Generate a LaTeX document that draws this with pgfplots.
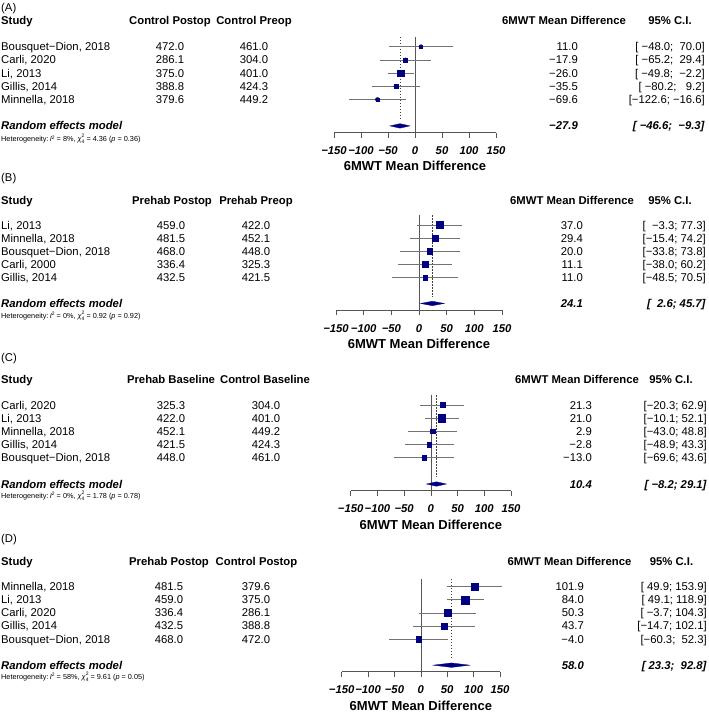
\documentclass[border=0pt]{standalone}
\usepackage{fontspec}
\setmainfont{Liberation Sans}
\usepackage{pgfplots}
\pgfplotsset{compat=1.18}
\usepackage{pgfplotstable}
\definecolor{navy}{RGB}{0,0,128}
\definecolor{cigray}{RGB}{115,115,115}
\definecolor{axgray}{RGB}{85,85,85}

% y = -row index, est, lower, upper, s = half side of square (pt)
\pgfplotstableread{
y est lo hi s
-1 11.0 -48.0 70.0 1.55
-2 -17.9 -65.2 29.4 2.05
-3 -26.0 -49.8 -2.2 3.4
-4 -35.5 -80.2 9.2 2.05
-5 -69.6 -122.6 -16.6 1.75
}\dataA
\pgfplotstableread{
y est lo hi s
-1 37.0 -3.3 77.3 3.55
-2 29.4 -15.4 74.2 3.05
-3 20.0 -33.8 73.8 2.55
-4 11.1 -38.0 60.2 2.9
-5 11.0 -48.5 70.5 2.4
}\dataB
\pgfplotstableread{
y est lo hi s
-1 21.3 -20.3 62.9 2.55
-2 21.0 -10.1 52.1 3.55
-3 2.9 -43.0 48.8 2.25
-4 -2.8 -48.9 43.3 2.25
-5 -13.0 -69.6 43.6 2.05
}\dataC
\pgfplotstableread{
y est lo hi s
-1 101.9 49.9 153.9 3.55
-2 84.0 49.1 118.9 3.9
-3 50.3 -3.7 104.3 3.4
-4 43.7 -14.7 102.1 3.25
-5 -4.0 -60.3 52.3 2.9
}\dataD

\pgfplotsset{forest/.style={
  scale only axis, clip=false,
  xmin=-150, xmax=150, ymin=-7.5, ymax=-0.25,
  axis x line*=bottom, axis y line=none,
  xtick={-150,-100,-50,0,50,100,150},
  xticklabels={−150,−100,−50,0,50,100,150},
  tick align=outside, major tick length=5pt,
  axis line style={axgray, line width=0.7pt},
  tick style={axgray, line width=0.7pt},
  xticklabel style={font=\fontsize{11.3}{13}\selectfont\bfseries\itshape, anchor=center, yshift=-13.3pt},
  xlabel={6MWT Mean Difference},
  xlabel style={font=\fontsize{13}{15}\selectfont\bfseries, at={(axis description cs:0.5,0)}, anchor=center, yshift=-33.8pt},
}}

\newcommand\forestplots[5]{% data, pooled est, lo, hi, top of zero line
  \addplot[axgray, line width=0.7pt] coordinates {(0,#5) (0,-7.5)};
  \addplot[black!75, line width=0.6pt, dash pattern=on 1.5pt off 1.5pt] coordinates {(#2,#5) (#2,-6.5)};
  \addplot[only marks, mark=none, error bars/.cd, x dir=both, x explicit, error mark=none,
     error bar style={draw=cigray, line width=0.7pt}]
     table[x=est, y=y, x error plus expr=\thisrow{hi}-\thisrow{est}, x error minus expr=\thisrow{est}-\thisrow{lo}]{#1};
  \addplot[scatter, only marks, mark=square*, point meta=\thisrow{s},
     visualization depends on={\thisrow{s}\as\msz},
     scatter/use mapped color={draw=navy, fill=navy},
     scatter/@pre marker code/.append style={/tikz/mark size=\msz},
     mark options={line width=0.3pt}]
     table[x=est, y=y]{#1};
  \addplot[fill=navy, draw=navy, line width=0.3pt] coordinates {(#3,-7) (#2,-6.83) (#4,-7) (#2,-7.17)} -- cycle;
}

\newcommand\row[6]{%
  \node[anchor=base west] at (1,#1+4) {#2};
  \node[anchor=base] at (\ca,#1+4) {#3};
  \node[anchor=base] at (\cb,#1+4) {#4};
  \node[anchor=base east] at (\cc,#1+4) {#5};
  \node[anchor=base east] at (\cd,#1+4) {#6};}
\newcommand\hdr[8]{%
  \node[anchor=base west] at (1,#3+4) {#2};
  \node[anchor=base west] at (1,#1+4) {\textbf{Study}};
  \node[anchor=base] at (#4,#1+4) {\textbf{#5}};
  \node[anchor=base] at (#6,#1+4) {\textbf{#7}};
  \node[anchor=base] at (#8,#1+4) {\textbf{6MWT Mean Difference}};}
\newcommand\ci[2]{\node[anchor=base] at (#2,#1+4) {\textbf{95\% C.I.}};}
\newcommand\re[3]{%
  \node[anchor=base west] at (1,#1+4) {\textbf{\textit{Random effects model}}};
  \node[anchor=base east] at (\cc,#1+4) {\textbf{\textit{#2}}};
  \node[anchor=base east] at (\cd,#1+4) {\textbf{\textit{#3}}};}
\newcommand\het[4]{%
  \node[anchor=base west, font=\fontsize{7.3}{8}\selectfont] at (1,#1+2.7)
  {Heterogeneity:\,\textit{I}\raisebox{0.33em}{\fontsize{5}{5}\selectfont 2} = #2\%, \textit{χ}\raisebox{-0.3em}{\shortstack[l]{\fontsize{5}{4.5}\selectfont 2\\\fontsize{5}{4.5}\selectfont 4}} = #3 (\textit{p} = #4)};}

\begin{document}
\begin{tikzpicture}
\useasboundingbox (0,0) rectangle (709pt,-712pt);

% ---------------- Panel A
\begin{axis}[forest, at={(334pt,-132.5pt)}, anchor=south west, width=162pt, height=95.7pt]
\forestplots{\dataA}{-27.9}{-46.6}{-9.3}{-0.25}
\end{axis}
% ---------------- Panel B
\begin{axis}[forest, at={(336pt,-310pt)}, anchor=south west, width=166pt, height=94.8pt]
\forestplots{\dataB}{24.1}{2.6}{45.7}{-0.25}
\end{axis}
% ---------------- Panel C
\begin{axis}[forest, at={(350.7pt,-490.6pt)}, anchor=south west, width=160.3pt, height=95.5pt]
\forestplots{\dataC}{10.4}{-8.2}{29.1}{-0.25}
\end{axis}
% ---------------- Panel D
\begin{axis}[forest, at={(341.7pt,-671.7pt)}, anchor=south west, width=158.3pt, height=94.8pt]
\forestplots{\dataD}{58.0}{23.3}{92.8}{-0.4}
\end{axis}

\begin{scope}[x=1pt, y=-1pt, every node/.style={inner sep=0pt, font=\fontsize{11.3}{13}\selectfont}]
% Panel A
\def\ca{170}\def\cb{254}\def\cc{578}\def\cd{705}
\hdr{20}{(A)}{7}{170}{Control Postop}{254}{Control Preop}{564}
\ci{20}{670}
\row{46.7}{Bousquet−Dion, 2018}{472.0}{461.0}{11.0}{[\ −48.0;\ \ 70.0]}
\row{59.9}{Carli, 2020}{286.1}{304.0}{−17.9}{[\ −65.2;\ \ 29.4]}
\row{73.1}{Li, 2013}{375.0}{401.0}{−26.0}{[\ −49.8;\ \ −2.2]}
\row{86.3}{Gillis, 2014}{388.8}{424.3}{−35.5}{[\ −80.2;\ \ \ 9.2]}
\row{99.5}{Minnella, 2018}{379.6}{449.2}{−69.6}{[−122.6;\ −16.6]}
\re{125.9}{−27.9}{[\ −46.6;\ \ −9.3]}
\het{139}{8}{4.36}{0.36}
% Panel B
\def\ca{171}\def\cb{256}\def\cc{583}\def\cd{706}
\hdr{200}{(B)}{177}{172}{Prehab Postop}{256}{Prehab Preop}{572}
\ci{200}{670}
\row{225}{Li, 2013}{459.0}{422.0}{37.0}{[\ \ −3.3;\ 77.3]}
\row{238.1}{Minnella, 2018}{481.5}{452.1}{29.4}{[−15.4;\ 74.2]}
\row{251.1}{Bousquet−Dion, 2018}{468.0}{448.0}{20.0}{[−33.8;\ 73.8]}
\row{264.2}{Carli, 2000}{336.4}{325.3}{11.1}{[−38.0;\ 60.2]}
\row{277.3}{Gillis, 2014}{432.5}{421.5}{11.0}{[−48.5;\ 70.5]}
\re{303.3}{24.1}{[\ \ 2.6;\ 45.7]}
\het{315.7}{0}{0.92}{0.92}
% Panel C
\def\ca{171}\def\cb{266}\def\cc{592}\def\cd{707}
\hdr{379}{(C)}{357}{171}{Prehab Baseline}{265}{Control Baseline}{577}
\ci{379}{671}
\row{405}{Carli, 2020}{325.3}{304.0}{21.3}{[−20.3;\ 62.9]}
\row{418.2}{Li, 2013}{422.0}{401.0}{21.0}{[−10.1;\ 52.1]}
\row{431.3}{Minnella, 2018}{452.1}{449.2}{2.9}{[−43.0;\ 48.8]}
\row{444.5}{Gillis, 2014}{421.5}{424.3}{−2.8}{[−48.9;\ 43.3]}
\row{457.7}{Bousquet−Dion, 2018}{448.0}{461.0}{−13.0}{[−69.6;\ 43.6]}
\re{484}{10.4}{[\ −8.2;\ 29.1]}
\het{495.7}{0}{1.78}{0.78}
% Panel D
\def\ca{169}\def\cb{256}\def\cc{584}\def\cd{707}
\hdr{561}{(D)}{538}{169}{Prehab Postop}{256.5}{Control Postop}{569.5}
\ci{561}{671.5}
\row{586.7}{Minnella, 2018}{481.5}{379.6}{101.9}{[\ 49.9;\ 153.9]}
\row{599.8}{Li, 2013}{459.0}{375.0}{84.0}{[\ 49.1;\ 118.9]}
\row{612.9}{Carli, 2020}{336.4}{286.1}{50.3}{[\ −3.7;\ 104.3]}
\row{625.9}{Gillis, 2014}{432.5}{388.8}{43.7}{[−14.7;\ 102.1]}
\row{639}{Bousquet−Dion, 2018}{468.0}{472.0}{−4.0}{[−60.3;\ \ 52.3]}
\re{665}{58.0}{[\ 23.3;\ \ 92.8]}
\het{676.7}{58}{9.61}{0.05}
\end{scope}
\end{tikzpicture}
\end{document}
